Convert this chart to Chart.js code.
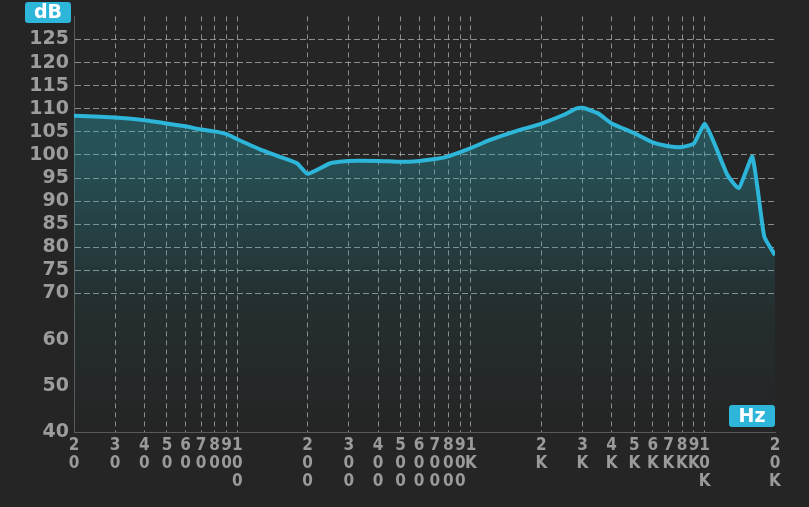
<!DOCTYPE html>
<html>
<head>
<meta charset="utf-8">
<script src="https://cdn.jsdelivr.net/npm/chart.js@4"></script>
<style>
  html, body { margin: 0; padding: 0; background: #252525; }
  #wrap { width: 809px; height: 507px; }
</style>
</head>
<body>
<div id="wrap"><canvas id="fr"></canvas></div>
<script>
// frequency response
const freqs = [20, 30, 40, 50, 60, 70, 80, 90, 100, 125, 150, 180, 200, 250, 300, 400, 500, 600, 700, 800, 900,
  1000, 1200, 1500, 2000, 2500, 2800, 3000, 3500, 4000, 5000, 6000, 7000, 8000, 9000,
  10000, 11000, 12500, 14000, 16000, 18000, 20000];
const dbValues = [108.5, 108.1, 107.5, 106.8, 106.2, 105.5, 105.1, 104.5, 103.4, 101.2, 99.7, 98.2, 95.9, 98.2, 98.7, 98.7, 98.5, 98.7, 99.1, 99.7, 100.6,
  101.5, 103.2, 104.9, 106.8, 108.7, 110.0, 110.2, 109.0, 106.8, 104.7, 102.7, 101.9, 101.7, 102.5,
  106.8, 102.5, 95.7, 92.8, 99.6, 82.3, 78.3];
const xTicks = [20, 30, 40, 50, 60, 70, 80, 90, 100, 200, 300, 400, 500, 600, 700, 800, 900,
  1000, 2000, 3000, 4000, 5000, 6000, 7000, 8000, 9000, 10000, 20000];
const yTicks = [40, 50, 60, 70, 75, 80, 85, 90, 95, 100, 105, 110, 115, 120, 125];

const cyan = '#2db6d9';
const gridCol = 'rgba(205,205,205,0.62)';

function hzLabel(v) {
    let s = v >= 1000 ? (v / 1000) + 'K' : String(v);
    return s.split('');
}

// the little dB / Hz badges
const badges = {
    id: 'badges',
    afterDraw(chart) {
        const c = chart.ctx;
        function badge(x, y, w, h, txt) {
            c.save();
            c.fillStyle = cyan;
            c.beginPath();
            c.roundRect(x, y, w, h, 3);
            c.fill();
            c.fillStyle = '#ffffff';
            c.font = 'bold 19px "DejaVu Sans"';
            c.textAlign = 'center';
            c.textBaseline = 'middle';
            c.fillText(txt, x + w / 2, y + h / 2 + 1);
            c.restore();
        }
        badge(25, 2, 46, 21, 'dB');
        badge(729, 405, 46, 22, 'Hz');
    }
};

const ctx = document.getElementById('fr').getContext('2d');
const grad = ctx.createLinearGradient(0, 12, 0, 432);
grad.addColorStop(0, 'rgba(42,175,192,0.38)');
grad.addColorStop(0.33, 'rgba(42,175,192,0.33)');
grad.addColorStop(0.55, 'rgba(42,175,192,0.18)');
grad.addColorStop(0.7, 'rgba(42,175,192,0.07)');
grad.addColorStop(1, 'rgba(42,175,192,0)');

const frChart = new Chart(ctx, {
    type: 'line',
    data: {
        datasets: [{
            data: freqs.map((f, i) => ({ x: f, y: dbValues[i] })),
            borderColor: cyan,
            borderWidth: 4,
            backgroundColor: grad,
            fill: 'start',
            pointRadius: 0,
            tension: 0.15
        }]
    },
    options: {
        responsive: true,
        maintainAspectRatio: false,
        animation: false,
        layout: { padding: { top: 12, right: 34, left: 0, bottom: 0 } },
        plugins: { legend: { display: false }, tooltip: { enabled: false } },
        scales: {
            x: {
                type: 'logarithmic',
                min: 20,
                max: 20000,
                afterBuildTicks: s => { s.ticks = xTicks.map(v => ({ value: v })); },
                afterFit: s => { s.height = 75; },
                grid: {
                    drawTicks: false,
                    color: c => (c.tick && (c.tick.value === 20 || c.tick.value === 20000)) ? 'transparent' : gridCol,
                    lineWidth: 1
                },
                border: { display: true, color: '#5a5a5a', width: 1, dash: [5, 4] },
                ticks: {
                    autoSkip: false,
                    maxRotation: 0,
                    padding: 4,
                    color: '#9a9a9a',
                    font: { family: '"Liberation Sans Narrow", "DejaVu Sans Condensed", sans-serif', size: 17, weight: 'bold', lineHeight: 1.08 },
                    callback: v => hzLabel(v)
                }
            },
            y: {
                min: 40,
                max: 130,
                afterBuildTicks: s => { s.ticks = yTicks.map(v => ({ value: v })); },
                afterFit: s => { s.width = 74; },
                grid: {
                    drawTicks: false,
                    color: c => (c.tick && c.tick.value >= 70) ? gridCol : 'transparent',
                    lineWidth: 1
                },
                border: { display: true, color: '#5a5a5a', width: 1, dash: [6, 3] },
                ticks: {
                    padding: 5,
                    color: '#9c9c9c',
                    font: { family: '"DejaVu Sans"', size: 19, weight: 'bold' }
                }
            }
        }
    },
    plugins: [badges]
});
</script>
</body>
</html>
